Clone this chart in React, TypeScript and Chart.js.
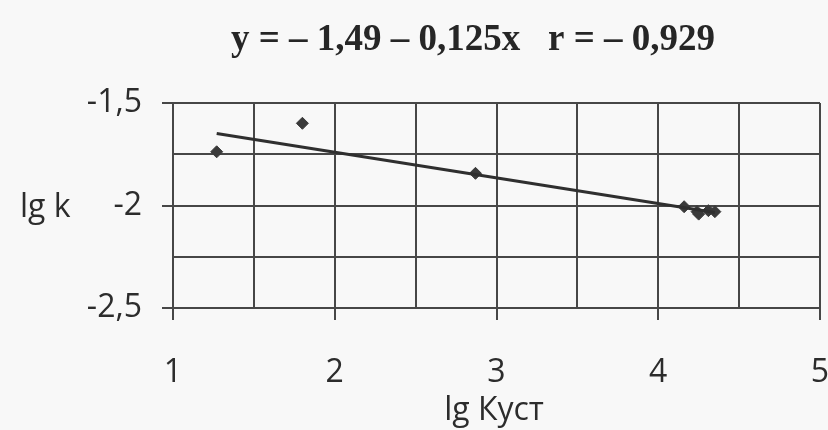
import React, { useEffect, useRef } from "react";
import { Chart, registerables } from "chart.js";

Chart.register(...registerables);

// Data
const pointX = [1.27, 1.80, 2.87, 4.16, 4.24, 4.25, 4.31, 4.35];
const pointY = [-1.738, -1.599, -1.843, -2.006, -2.03, -2.042, -2.025, -2.03];
const trendX = [1.27, 4.35];
const trendY = [-1.649, -2.034];

const titleText = "y = – 1,49 – 0,125x   r = – 0,929";
const xTitle = "lg Куст";
const yTitle = "lg k";

const xMin = 1, xMax = 5, xStep = 0.5;
const yMin = -2.5, yMax = -1.5, yStep = 0.25;

const INK = "#2c2c2c";
const GRID = "#474747";
const FONT = "'Open Sans', sans-serif";

const isMajor = (v: number, every: number) =>
  Math.abs(Math.round(v / every) - v / every) < 1e-6;

const fmt = (v: number) => String(v).replace(".", ",");

export default function App() {
  const ref = useRef<HTMLCanvasElement | null>(null);

  useEffect(() => {
    if (!ref.current) return;
    const textPlugin = {
      id: "texts",
      beforeDraw(chart: any) {
        const c = chart.ctx;
        c.save();
        c.fillStyle = "#f8f8f8";
        c.fillRect(0, 0, chart.width, chart.height);
        c.restore();
      },
      afterDraw(chart: any) {
        const c = chart.ctx;
        c.save();
        c.fillStyle = "#262626";
        c.font = "bold 37px 'Liberation Serif', 'Times New Roman', serif";
        c.textAlign = "center";
        c.textBaseline = "middle";
        c.fillText(titleText, 473, 40);
        c.fillStyle = INK;
        c.font = `32px ${FONT}`;
        c.textAlign = "left";
        c.fillText(yTitle, 20, 208);
        c.textAlign = "center";
        c.fillText(xTitle, 494, 411);
        c.restore();
      },
    };

    const chart = new Chart(ref.current, {
      type: "scatter",
      data: {
        datasets: [
          {
            type: "line",
            data: trendX.map((x, i) => ({ x, y: trendY[i] })),
            borderColor: "#2f2f2f",
            borderWidth: 3,
            pointRadius: 0,
            fill: false,
          } as any,
          {
            data: pointX.map((x, i) => ({ x, y: pointY[i] })),
            pointStyle: "rectRot",
            pointRadius: 6,
            backgroundColor: "#3a3a3a",
            borderColor: "#3a3a3a",
          },
        ],
      },
      options: {
        responsive: false,
        animation: false,
        layout: { padding: { top: 103, right: 8, left: 0, bottom: 0 } },
        plugins: {
          legend: { display: false },
          tooltip: { enabled: false },
          title: { display: false },
        },
        scales: {
          x: {
            type: "linear",
            min: xMin,
            max: xMax,
            afterFit: (s: any) => {
              s.height = 122;
              s.paddingLeft = 0;
              s.paddingRight = 0;
            },
            ticks: {
              stepSize: xStep,
              color: INK,
              font: { family: FONT, size: 32 },
              padding: 34,
              maxRotation: 0,
              autoSkip: false,
              callback: (v: any) => (isMajor(Number(v), 1) ? fmt(Number(v)) : ""),
            },
            grid: {
              color: GRID,
              lineWidth: 2,
              tickLength: 12,
              tickColor: (ctx: any) =>
                ctx.tick && isMajor(ctx.tick.value, 1) ? GRID : "rgba(0,0,0,0)",
            },
            border: { display: true, color: GRID, width: 2 },
          },
          y: {
            type: "linear",
            min: yMin,
            max: yMax,
            afterFit: (s: any) => {
              s.width = 173;
              s.paddingTop = 0;
              s.paddingBottom = 0;
            },
            ticks: {
              stepSize: yStep,
              color: INK,
              font: { family: FONT, size: 32 },
              padding: 20,
              autoSkip: false,
              callback: (v: any) => (isMajor(Number(v), 0.5) ? fmt(Number(v)) : ""),
            },
            grid: {
              color: GRID,
              lineWidth: 2,
              tickLength: 11,
              tickColor: (ctx: any) =>
                ctx.tick && isMajor(ctx.tick.value, 0.5) ? GRID : "rgba(0,0,0,0)",
            },
            border: { display: true, color: GRID, width: 2 },
          },
        },
      },
      plugins: [textPlugin],
    });
    return () => chart.destroy();
  }, []);

  return (
    <div style={{ position: "absolute", left: 0, top: 0, width: 828, height: 430, background: "#f8f8f8" }}>
      <canvas ref={ref} width={828} height={430} style={{ width: 828, height: 430, display: "block" }} />
    </div>
  );
}
